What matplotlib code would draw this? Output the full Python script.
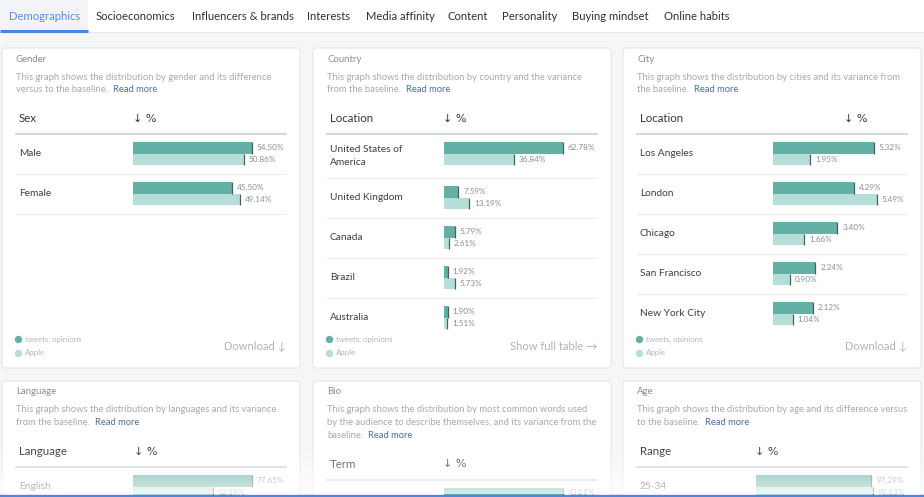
import matplotlib.pyplot as plt
import numpy as np
from matplotlib.patches import FancyBboxPatch, Rectangle

plt.rcParams['font.family'] = ['Lato', 'DejaVu Sans']

# tabs
tabs = ['Demographics', 'Socioeconomics', 'Influencers & brands', 'Interests',
        'Media affinity', 'Content', 'Personality', 'Buying mindset', 'Online habits']

# gender
gender_labels = ['Male', 'Female']
gender_tweets = [54.50, 45.50]
gender_apple = [50.86, 49.14]

# country
country_labels = ['United States of\nAmerica', 'United Kingdom', 'Canada', 'Brazil', 'Australia']
country_tweets = [62.78, 7.59, 5.79, 1.92, 1.90]
country_apple = [36.84, 13.19, 2.61, 5.73, 1.51]

# city
city_labels = ['Los Angeles', 'London', 'Chicago', 'San Francisco', 'New York City']
city_tweets = [5.32, 4.29, 3.40, 2.24, 2.12]
city_apple = [1.95, 5.49, 1.66, 0.90, 1.04]

# language / bio / age (cut off at the bottom of the screen)
language_labels = ['English']
language_tweets = [77.65]
language_apple = [52.19]

bio_labels = ['']
bio_tweets = [43.25]
bio_apple = []

age_labels = ['25-34']
age_tweets = [97.29]
age_apple = [98.83]

series_names = ['tweets, opinions', 'Apple']

# cores
DARK = '#63b0a6'
LIGHT = '#b6ded9'
TICK = '#4d5f5c'
W, H = 924, 497

fig = plt.figure(figsize=(9.24, 4.97), dpi=100)
fig.patch.set_facecolor('#f5f6f8')
bg = fig.add_axes([0, 0, 1, 1])
bg.set_xlim(0, W)
bg.set_ylim(H, 0)
bg.axis('off')


def px_axes(x, y, w, h, z):
    return fig.add_axes([x / W, 1 - (y + h) / H, w / W, h / H], zorder=z)


# barra de abas
bg.add_patch(Rectangle((0, 0), W, 32, fc='white', ec='none'))
bg.add_patch(Rectangle((0, 0), 88, 31, fc='#f2f4f7', ec='none'))
bg.plot([0, W], [32.3, 32.3], color='#e6e9ed', lw=0.8)
bg.plot([0, 88], [31, 31], color='#4a85e0', lw=2.2, solid_capstyle='butt')
tab_x = [9, 96, 192, 307, 366, 447, 502, 572, 664]
for i, (x, t) in enumerate(zip(tab_x, tabs)):
    bg.text(x, 17, t, va='center', ha='left', fontsize=8.1,
            color='#5b8fd8' if i == 0 else '#2d3236')


def draw_card(x0, y0, h, title, desc, header, labels, tweets, apple,
              arrow_off, bar_off, footer=None):
    bg.add_patch(FancyBboxPatch((x0, y0), 298, h, boxstyle='round,pad=0,rounding_size=3',
                                fc='white', ec='#e3e6ea', lw=0.8))
    bg.text(x0 + 14, y0 + 11, title, va='center', fontsize=6.9, color='#8a8d91')
    t = None
    for k, line in enumerate(desc):
        t = bg.text(x0 + 14, y0 + 29 + k * 12.7, line, va='center',
                    fontsize=6.75, color='#a6aaaf')
    bg.annotate('Read more', xy=(1, 0.5), xycoords=t, xytext=(3.5, 0),
                textcoords='offset points', va='center', fontsize=6.75, color='#4d6f96')
    hy = y0 + 29 + (len(desc) - 1) * 12.7 + 29
    bg.text(x0 + 17, hy, header, va='center', fontsize=8.3, color='#33383d')
    bg.text(x0 + arrow_off, hy, '↓ %', va='center', fontsize=8, color='#33383d',
            family=['DejaVu Sans'])
    line_y = hy + 15.5
    bg.plot([x0 + 14, x0 + 284], [line_y, line_y], color='#cfd3d7', lw=1.3)

    vis_h = min(h, H - y0)
    ax = px_axes(x0 + bar_off, y0, 284 - bar_off, vis_h, 2)
    ax.set_xlim(0, max(list(tweets) + list(apple)) * 1.29)
    ax.set_ylim(y0 + vis_h, y0)
    ax.axis('off')

    row_top = line_y
    for i, lab in enumerate(labels):
        rh = 44 if '\n' in lab else 40
        yd = row_top + 8 + 5.75
        yl = row_top + 8 + 17.25
        ax.barh(yd, tweets[i], height=11.5, color=DARK)
        ax.vlines(tweets[i], yd - 5.75, yd + 5.75, color=TICK, lw=0.9)
        ax.annotate(f'{tweets[i]:.2f}%', xy=(tweets[i], yd), xytext=(3.6, 0.5),
                    textcoords='offset points', va='center', fontsize=5.9, color='#8a8f94')
        if i < len(apple):
            ax.barh(yl, apple[i], height=11.5, color=LIGHT)
            ax.vlines(apple[i], yl - 5.75, yl + 5.75, color=TICK, lw=0.9)
            ax.annotate(f'{apple[i]:.2f}%', xy=(apple[i], yl), xytext=(3.6, 0),
                        textcoords='offset points', va='center', fontsize=5.9, color='#8a8f94')
        bg.text(x0 + 17, row_top + rh / 2 - 0.5, lab, va='center', fontsize=7.3,
                color='#3a3f45', linespacing=1.6)
        if row_top + rh < y0 + h - 40:
            bg.plot([x0 + 14, x0 + 284], [row_top + rh] * 2, color='#eceef0', lw=0.8)
        row_top += rh

    if footer is not None:
        for k, (name, c) in enumerate(zip(series_names, [DARK, LIGHT])):
            bg.plot(x0 + 16, y0 + 291 + k * 14, 'o', ms=4.3, color=c)
            bg.text(x0 + 23, y0 + 291 + k * 14, name, va='center', fontsize=5.7, color='#b3b6ba')
        bg.text(x0 + 284, y0 + 298, footer, va='center', ha='right', fontsize=8,
                color='#b0b4b8', family=['Lato', 'DejaVu Sans'])


top_y, top_h = 48, 320
draw_card(2, top_y, top_h, 'Gender',
          ['This graph shows the distribution by gender and its difference',
           'versus to the baseline.'],
          'Sex', gender_labels, gender_tweets, gender_apple, 131, 131, 'Download ↓')
draw_card(313, top_y, top_h, 'Country',
          ['This graph shows the distribution by country and the variance',
           'from the baseline.'],
          'Location', country_labels, country_tweets, country_apple, 130, 131, 'Show full table →')
draw_card(623, top_y, top_h, 'City',
          ['This graph shows the distribution by cities and its variance from',
           'the baseline.'],
          'Location', city_labels, city_tweets, city_apple, 221, 150, 'Download ↓')

bot_y, bot_h = 381, 160
draw_card(2, bot_y, bot_h, 'Language',
          ['This graph shows the distribution by languages and its variance',
           'from the baseline.'],
          'Language', language_labels, language_tweets, language_apple, 132, 131)
draw_card(313, bot_y, bot_h, 'Bio',
          ['This graph shows the distribution by most common words used',
           'by the audience to describe themselves, and its variance from the',
           'baseline.'],
          'Term', bio_labels, bio_tweets, bio_apple, 130, 131)
draw_card(623, bot_y, bot_h, 'Age',
          ['This graph shows the distribution by age and its difference versus',
           'to the baseline.'],
          'Range', age_labels, age_tweets, age_apple, 132, 133)

# esmaecimento no rodape + borda azul
ov = fig.add_axes([0, 0, 1, 1], zorder=10)
ov.set_xlim(0, W)
ov.set_ylim(H, 0)
ov.axis('off')
ov.patch.set_alpha(0)
yy = np.linspace(0, 1, 100)
grad = np.ones((100, 2, 4))
grad[:, :, 3] = (0.74 * yy ** 0.85)[:, None]
ov.imshow(grad, extent=(0, W, 494, 448), aspect='auto', interpolation='bilinear', zorder=1)
ov.plot([0, W], [496, 496], color='#4a87e5', lw=2.4, zorder=2)
ov.set_xlim(0, W)
ov.set_ylim(H, 0)

fig.savefig('out.png', dpi=100, facecolor=fig.get_facecolor())
